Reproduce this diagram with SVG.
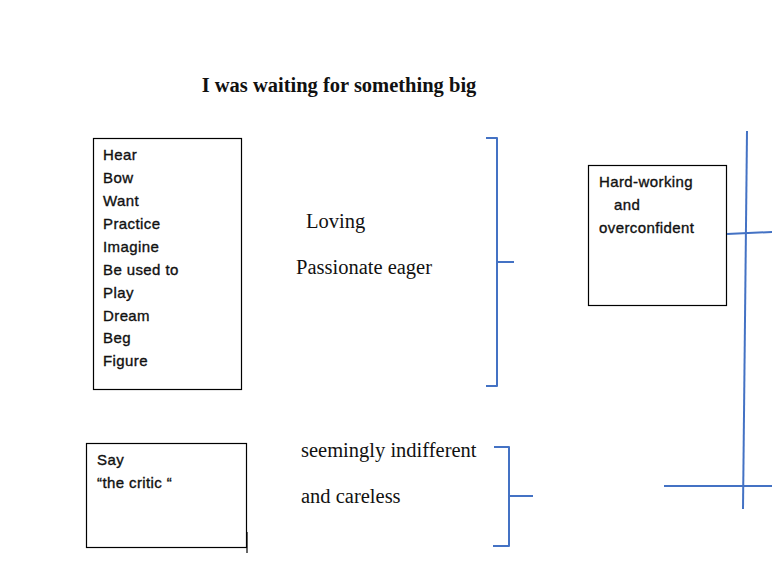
<svg xmlns="http://www.w3.org/2000/svg" width="772" height="574" viewBox="0 0 772 574">
<style>
.box{fill:#fff;stroke:#000;stroke-width:1.2}
.t{font-family:"Liberation Sans",Arial,sans-serif;font-size:15px;letter-spacing:0.4px;fill:#111;stroke:#111;stroke-width:0.35}
.s{font-family:"Liberation Serif","Times New Roman",serif;font-size:20.5px;fill:#111}
.b{fill:none;stroke:#4472C4;stroke-width:2;stroke-linejoin:round}
</style>
<rect width="772" height="574" fill="#fff"/>
<text class="s" x="339" y="92" text-anchor="middle" font-weight="bold">I was waiting for something big</text>
<g id="verbs">
<rect class="box" x="93.5" y="138.5" width="148" height="251"/>
<text class="t" x="103" y="160">Hear</text>
<text class="t" x="103" y="183">Bow</text>
<text class="t" x="103" y="206">Want</text>
<text class="t" x="103" y="229">Practice</text>
<text class="t" x="103" y="252">Imagine</text>
<text class="t" x="103" y="275">Be used to</text>
<text class="t" x="103" y="298">Play</text>
<text class="t" x="103" y="321">Dream</text>
<text class="t" x="103" y="343">Beg</text>
<text class="t" x="103" y="366">Figure</text>
</g>
<g id="say">
<rect class="box" x="86.5" y="443.5" width="160" height="104"/>
<line x1="247" y1="532" x2="247" y2="553" stroke="#000" stroke-width="1.2"/>
<text class="t" x="97" y="465">Say</text>
<text class="t" x="97" y="488">“the critic “</text>
</g>
<g id="loving">
<text class="s" x="306" y="228">Loving</text>
<text class="s" x="296" y="274">Passionate eager</text>
</g>
<g id="indifferent">
<text class="s" x="301" y="457">seemingly indifferent</text>
<text class="s" x="301" y="503">and careless</text>
</g>
<g id="hardworking">
<rect class="box" x="588.5" y="165.5" width="138" height="140"/>
<text class="t" x="599" y="187">Hard-working</text>
<text class="t" x="614" y="210">and</text>
<text class="t" x="599" y="233">overconfident</text>
</g>
<g id="connectors">
<path class="b" d="M486 138 H497 V386 H486 M497 262 H514"/>
<path class="b" d="M494 447 H509 V546 H493 M509 496 H533"/>
<line class="b" x1="747" y1="131" x2="743" y2="509"/>
<line class="b" x1="727" y1="234" x2="772" y2="232"/>
<line class="b" x1="664" y1="486" x2="772" y2="486"/>
</g>
</svg>
